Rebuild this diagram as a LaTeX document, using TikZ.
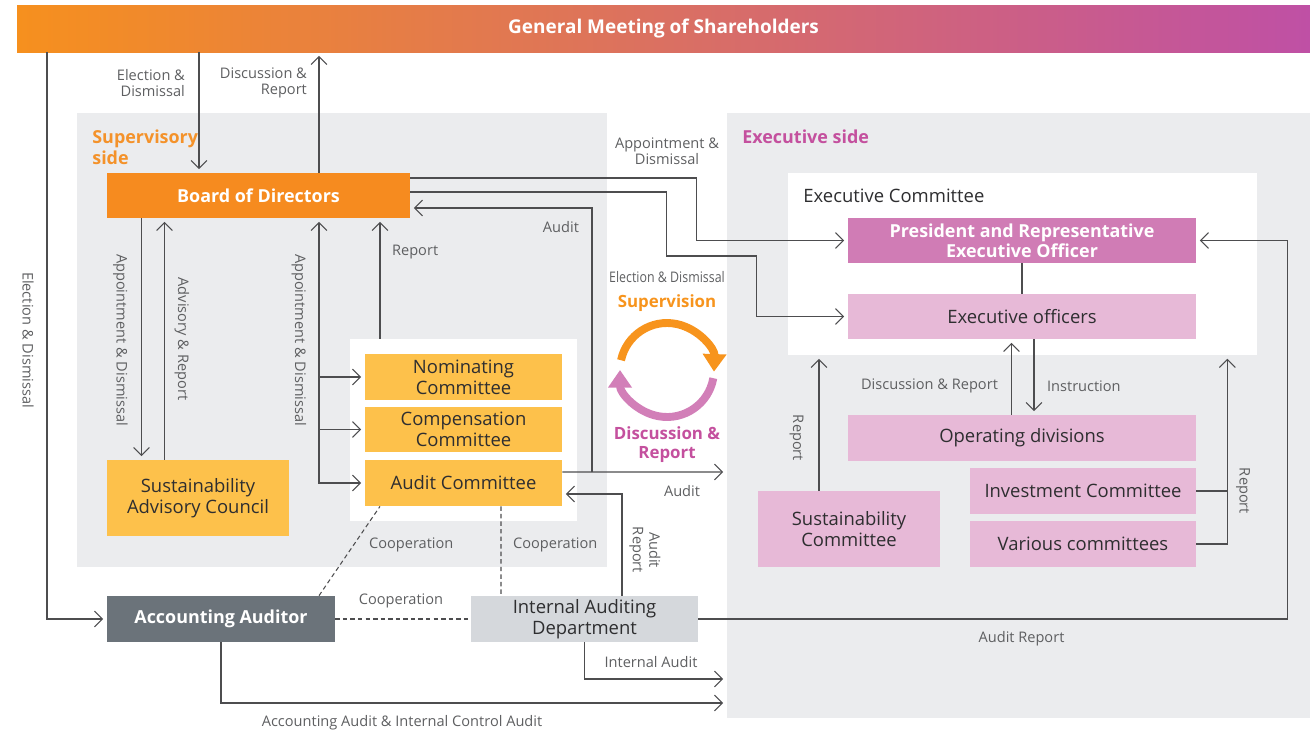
\documentclass[tikz,border=0pt]{standalone}
\usepackage{fontspec}
\setmainfont{Open Sans}
\usetikzlibrary{arrows.meta,positioning,calc}
\definecolor{gmsleft}{HTML}{F6901E}
\definecolor{gmsright}{HTML}{BF50A5}
\definecolor{bodorange}{HTML}{F68B1F}
\definecolor{cmtyellow}{HTML}{FDC14B}
\definecolor{panelgray}{HTML}{EBECEE}
\definecolor{presmag}{HTML}{D07CB5}
\definecolor{pinklight}{HTML}{E7B9D7}
\definecolor{accgray}{HTML}{6B737A}
\definecolor{iadgray}{HTML}{D5D8DC}
\definecolor{linegray}{HTML}{4D4D4F}
\definecolor{lbltext}{HTML}{5E5F61}
\definecolor{boxtext}{HTML}{2E2E30}
\definecolor{supcol}{HTML}{F4922A}
\definecolor{execol}{HTML}{C4509E}
\definecolor{arcorange}{HTML}{F7941D}
\definecolor{arcpink}{HTML}{D27FB8}

\begin{document}
\begin{tikzpicture}[x=0.02cm,y=0.02cm,>={Straight Barb[length=4.5pt,width=9pt]},
  box/.style={inner sep=0pt,align=center,text=boxtext,font=\fontsize{10.5}{12}\selectfont},
  hbox/.style={box,text=white,font=\fontsize{10.2}{11.6}\selectfont\bfseries},
  sz/.style 2 args={minimum width=#1*0.02cm,minimum height=#2*0.02cm},
  panel/.style={fill=panelgray,inner sep=0pt},
  conn/.style={draw=linegray,line width=0.6pt},
  arr/.style={conn,->,shorten >=2pt},
  coop/.style={draw=linegray,line width=0.6pt,dash pattern=on 2.5pt off 1.8pt},
  lbl/.style={inner sep=1pt,align=center,text=lbltext,font=\fontsize{8.3}{9.4}\selectfont},
  side/.style={inner sep=0pt,align=left,font=\fontsize{10.2}{11.8}\selectfont\bfseries},
  cyclbl/.style={inner sep=0pt,align=center,font=\fontsize{9.6}{10.8}\selectfont\bfseries},
]
\useasboundingbox (0,0) rectangle (1310,-734);

% --- Sfondi
\node[panel,sz={530}{454}] (supside) at (342,-340) {};
\node[panel,sz={583}{605}] (exside) at (1018.5,-415.5) {};
\node[fill=white,inner sep=0pt,sz={469}{182}] (excom) at (1022.5,-264) {};
\node[fill=white,inner sep=0pt,sz={227}{182}] (cmtbox) at (463.5,-430) {};

\node[side,text=supcol,anchor=north west] (supl) at (92,-130) {Supervisory\\side};
\node[side,text=execol,anchor=north west] (exl) at (742,-130) {Executive side};
\node[box,anchor=west] (excoml) at (803,-196) {Executive Committee};

% --- Blocchi
\node[hbox,sz={1293}{47},left color=gmsleft,right color=gmsright,font=\fontsize{10.8}{12}\selectfont\bfseries] (gms) at (663.5,-28.5) {General Meeting of Shareholders};
\node[hbox,sz={303}{45},fill=bodorange] (bod) at (258.5,-195.5) {Board of Directors};
\node[box,sz={182}{76},fill=cmtyellow] (sac) at (198,-498) {Sustainability\\Advisory Council};
\node[box,sz={197}{46},fill=cmtyellow] (nom) at (463.5,-377) {Nominating\\Committee};
\node[box,sz={197}{45},fill=cmtyellow] (comp) at (463.5,-429.5) {Compensation\\Committee};
\node[box,sz={197}{46},fill=cmtyellow] (audc) at (463.5,-483) {Audit Committee};
\node[hbox,sz={228}{46},fill=accgray] (acc) at (221,-619) {Accounting Auditor};
\node[box,sz={227}{46},fill=iadgray] (iad) at (584.5,-619) {Internal Auditing\\Department};

\node[hbox,sz={348}{45},fill=presmag] (pres) at (1022,-240.5) {President and Representative\\Executive Officer};
\node[box,sz={348}{45},fill=pinklight] (eo) at (1022,-316.5) {Executive officers};
\node[box,sz={348}{46},fill=pinklight] (opd) at (1022,-438) {Operating divisions};
\node[box,sz={226}{46},fill=pinklight] (inv) at (1083,-491) {Investment Committee};
\node[box,sz={226}{46},fill=pinklight] (var) at (1083,-544) {Various committees};
\node[box,sz={182}{76},fill=pinklight] (susc) at (849,-529) {Sustainability\\Committee};

% --- Ascisse dei collegamenti
\coordinate (xgl) at (47,0);
\coordinate (xed) at (199,0);
\coordinate (xdr) at (319,0);
\coordinate (xapp) at (141.5,0);
\coordinate (xadv) at (164.5,0);
\coordinate (xrep) at (380,0);
\coordinate (xaud) at (592,0);

% --- Assemblea
\draw[arr] (gms.south -| xgl) |- (acc.west);
\draw[arr] (gms.south -| xed) -- (bod.north -| xed);
\draw[arr] (bod.north -| xdr) -- (gms.south -| xdr);
\node[lbl,rotate=-90] (l-ged) at (28,-340) {Election \& Dismissal};
\node[lbl,anchor=east,align=right] (l-ed) at (187,-83) {Election \&\\Dismissal};
\node[lbl,anchor=east,align=right] (l-dr) at (309,-83) {Discussion \&\\Report};

% --- Consiglio e comitati
\draw[arr] (bod.south -| xapp) -- (sac.north -| xapp);
\draw[arr] (sac.north -| xadv) -- (bod.south -| xadv);
\draw[arr,<->,shorten <=2pt] (bod.south -| xdr) |- (audc.west);
\draw[arr] (nom.west -| xdr) -- (nom.west);
\draw[arr] (comp.west -| xdr) -- (comp.west);
\draw[arr] (cmtbox.north -| xrep) -- (bod.south -| xrep);
\node[lbl,rotate=-90] (l-app1) at (120.5,-340) {Appointment \& Dismissal};
\node[lbl,rotate=-90] (l-adv) at (182,-339) {Advisory \& Report};
\node[lbl,rotate=-90] (l-app2) at (299,-340) {Appointment \& Dismissal};
\node[lbl,anchor=west] (l-rep) at (390,-252) {Report};

% --- Audit
\draw[arr] ($(audc.east)+(0,11)$) -- ($(exside.west)+(0,-56.5)$);
\draw[arr] ($(audc.east -| xaud)+(0,11)$) |- ($(bod.east)+(0,-12.5)$);
\node[lbl,anchor=east] (l-aud1) at (581,-227) {Audit};
\node[lbl] (l-aud2) at (682,-491) {Audit};

% --- Consiglio -> lato esecutivo
\draw[arr] ($(bod.east)+(0,17.5)$) -| ($(pres.west)+(-151,0)$) -- (pres.west);
\draw[arr] ($(bod.east)+(0,3.5)$) -| ($(eo.west)+(-181,60.5)$) -| ($(eo.west)+(-91,0)$) -- (eo.west);
\node[lbl] (l-appd) at (667,-151) {Appointment \&\\Dismissal};

% --- Ciclo
\coordinate (cyc) at (667,-370);
\draw[arcorange,line width=4.5pt,-{Triangle[length=10pt,width=13pt]}]
  ($(cyc)+(168:47)$) arc[start angle=168,end angle=-2,radius=47];
\draw[arcpink,line width=4.5pt,-{Triangle[length=10pt,width=13pt]}]
  ($(cyc)+(-10:47)$) arc[start angle=-10,end angle=-180,radius=47];
\node[lbl] (l-cyc) at (667,-277) {\scalebox{0.85}[1]{Election \& Dismissal}};
\node[cyclbl,text=arcorange] (l-sup) at (667,-303) {Supervision};
\node[cyclbl,text=execol] (l-disc) at (667,-445) {Discussion \&\\Report};

% --- Lato esecutivo
\draw[conn] (pres.south) -- (eo.north);
\draw[arr] ($(opd.north)+(-10.5,0)$) -- ($(eo.south)+(-10.5,0)$);
\draw[arr] ($(eo.south)+(12,0)$) -- ($(opd.north)+(12,0)$);
\draw[arr] ($(susc.north)+(-30,0)$) coordinate (srs) -- (srs |- excom.south);
\draw[arr] (var.east) -| ($(excom.south east)+(-30,0)$);
\draw[conn] (inv.east) -- ++(31,0);
\node[lbl,anchor=east] (l-dre) at (1000,-386) {Discussion \& Report};
\node[lbl,anchor=west] (l-ins) at (1045,-386) {Instruction};
\node[lbl,rotate=-90] (l-rep2) at (796.5,-438) {Report};
\node[lbl,rotate=-90] (l-rep3) at (1243,-491) {Report};

% --- Revisione
\draw[arr] (iad.east) -| ($(pres.east)+(91,0)$) -- (pres.east);
\draw[arr] ($(iad.north)+(37.5,0)$) |- ($(audc.east)+(0,-11)$);
\draw[coop] (acc.east) -- (iad.west);
\draw[coop] ($(acc.north)+(98,0)$) -- ($(audc.south)+(-83.5,0)$);
\draw[coop] ($(audc.south)+(37.5,0)$) -- ($(iad.north)+(-83.5,0)$);
\draw[arr] (acc.south) |- ($(exside.west)+(0,-287.5)$);
\draw[arr] (iad.south) |- ($(exside.west)+(0,-263.5)$);
\node[lbl,rotate=-90] (l-ar) at (645,-550) {Audit\\Report};
\node[lbl,anchor=west] (l-coop1) at (367,-545) {Cooperation};
\node[lbl,anchor=west] (l-coop2) at (511,-545) {Cooperation};
\node[lbl] (l-coop3) at (401,-601) {Cooperation};
\node[lbl] (l-ia) at (651,-662) {Internal Audit};
\node[lbl] (l-acia) at (402,-723) {Accounting Audit \& Internal Control Audit};
\node[lbl] (l-arep) at (1021.5,-639) {Audit Report};

\end{tikzpicture}
\end{document}
